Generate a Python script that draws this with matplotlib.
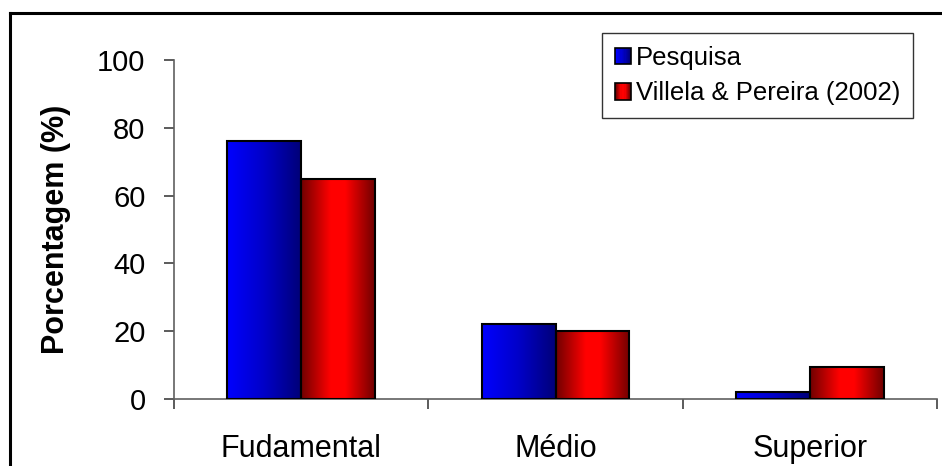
import matplotlib
matplotlib.use("Agg")
import matplotlib.pyplot as plt
import numpy as np
from matplotlib.colors import LinearSegmentedColormap
from matplotlib.lines import Line2D
from matplotlib.patches import Rectangle
from matplotlib.legend_handler import HandlerPatch

# data
categories = ['Fudamental', 'Médio', 'Superior']
pesquisa = [76, 22, 2]
villela = [65, 20, 9.5]
series_names = ['Pesquisa', 'Villela & Pereira (2002)']
y_ticks = [0, 20, 40, 60, 80, 100]

plt.rcParams['font.family'] = ['Liberation Sans', 'DejaVu Sans']

#gradient colormaps like the old excel fill
blue_cmap = LinearSegmentedColormap.from_list('blue_grad', ['#0000ff', '#0000c8', '#000078'])
red_cmap = LinearSegmentedColormap.from_list(
    'red_grad', [(0.0, '#700000'), (0.4, '#ff0000'), (0.6, '#ff0000'), (1.0, '#700000')])
grad = np.linspace(0, 1, 256).reshape(1, -1)

fig = plt.figure(figsize=(9.42, 4.66), dpi=100)
ax = fig.add_axes([174 / 942, 1 - 399 / 466, (937 - 174) / 942, (399 - 60) / 466])

x = np.arange(len(categories))
w = 0.29


def gradient_bars(xpos, values, cmap):
    bars = ax.bar(xpos, values, width=w, facecolor='none', edgecolor='black',
                  linewidth=1.5, zorder=3)
    for b in bars:
        x0, y0 = b.get_x(), b.get_y()
        im = ax.imshow(grad, extent=[x0, x0 + b.get_width(), y0, y0 + b.get_height()],
                       aspect='auto', cmap=cmap, zorder=2, interpolation='bilinear')
        im.set_clip_path(b)
    return bars


gradient_bars(x - w / 2, pesquisa, blue_cmap)
gradient_bars(x + w / 2, villela, red_cmap)

ax.set_xlim(-0.5, len(categories) - 0.5)
ax.set_ylim(0, 100)

# axis styling
for s in ['top', 'right']:
    ax.spines[s].set_visible(False)
for s in ['left', 'bottom']:
    ax.spines[s].set_color('#606060')
    ax.spines[s].set_linewidth(1.2)

ax.set_yticks(y_ticks)
ax.tick_params(axis='y', direction='out', length=7.5, width=1.2, color='#404040',
               labelsize=21, pad=13)
ax.set_xticks(x)
ax.set_xticklabels(categories)
ax.set_xticks(np.arange(-0.5, len(categories)), minor=True)
ax.tick_params(axis='x', which='major', length=0, labelsize=22, pad=25)
ax.tick_params(axis='x', which='minor', direction='out', length=7.5, width=1.2, color='#404040')

ax.set_ylabel('Porcentagem (%)', fontsize=22, fontweight='bold')
ax.yaxis.set_label_coords(-0.135, 0.5)


class GradientHandler(HandlerPatch):
    def __init__(self, cmap):
        super().__init__()
        self.cmap = cmap

    def create_artists(self, legend, orig_handle, xdescent, ydescent, width, height,
                       fontsize, trans):
        arts = []
        n = 12
        for i in range(n):
            # slices overlap a bit so no white seams show
            r = Rectangle((-xdescent + width * i / n, -ydescent), width / n * 1.6, height,
                          facecolor=self.cmap((i + 0.5) / n), edgecolor='none',
                          antialiased=False, transform=trans)
            if i == n - 1:
                r.set_width(width / n)
            arts.append(r)
        edge = Rectangle((-xdescent, -ydescent), width, height, facecolor='none',
                         edgecolor='black', linewidth=1.2, transform=trans)
        arts.append(edge)
        return arts


h_blue = Rectangle((0, 0), 1, 1)
h_red = Rectangle((0, 0), 1, 1)
leg = ax.legend([h_blue, h_red], series_names, loc='upper right',
                bbox_to_anchor=(913 / 942, 1 - 33 / 466), bbox_transform=fig.transFigure,
                borderaxespad=0, fontsize=18.5, frameon=True, fancybox=False,
                handlelength=0.6, handleheight=0.6, handletextpad=0.2,
                borderpad=0.5, labelspacing=0.45,
                handler_map={h_blue: GradientHandler(blue_cmap), h_red: GradientHandler(red_cmap)})
leg.get_frame().set_edgecolor('black')
leg.get_frame().set_linewidth(1.0)

# outer chart border (only left and top are inside the picture)
fig.add_artist(Line2D([10 / 942, 10 / 942], [0, 1 - 13 / 466], color='black', linewidth=2.2))
fig.add_artist(Line2D([10 / 942, 1], [1 - 13 / 466, 1 - 13 / 466], color='black', linewidth=2.2))

fig.savefig('out.png', dpi=100)
